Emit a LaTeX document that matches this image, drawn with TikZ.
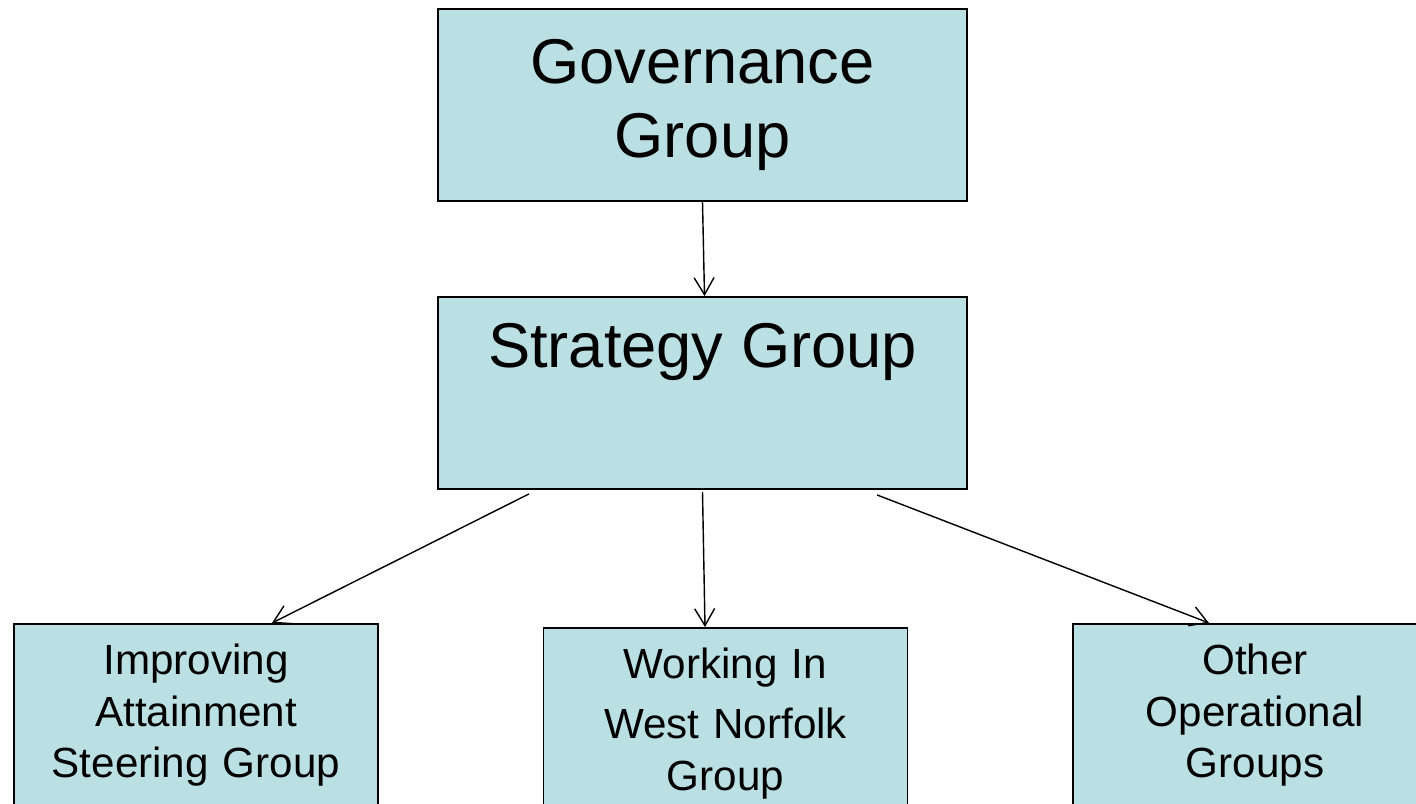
\documentclass[tikz,border=0pt]{standalone}
\usepackage{fontspec}
\setmainfont{Liberation Sans}
\usetikzlibrary{arrows.meta,positioning}
\definecolor{boxfill}{HTML}{BBE0E3}

\begin{document}
\begin{tikzpicture}[
  >={Straight Barb[length=3.4mm,width=4mm]},
  group/.style={draw=black,line width=1.1pt,fill=boxfill,inner sep=0pt,align=center,minimum width=10.58cm,font=\fontsize{36}{42.5}\selectfont},
  team/.style={draw=black,line width=1.1pt,fill=boxfill,inner xsep=0pt,inner ysep=0.4cm,align=center,text width=7.28cm,text depth=3cm,anchor=north,font=\fontsize{24}{29.3}\selectfont},
  link/.style={->,line width=0.8pt}
]
\useasboundingbox (0,0) rectangle (28.32,16.08);
\clip (0,0) rectangle (28.32,16.08);

% Upper tiers.
\node[group,minimum height=3.84cm] (gov) at (14.05,13.98) {Governance\\Group};
\node[group,anchor=north,text height=1.42cm,text depth=2.42cm] (strat) at (14.05,10.16) {Strategy Group};

% Operational groups, running off the lower edge.
\node[team] (attain) at (3.92,3.62) {Improving\\Attainment\\Steering Group};
\node[team] (norfolk) at (14.51,3.54) {Working In\\[5pt]West Norfolk\\Group};
\node[team] (other) at (25.10,3.62) {Other\\Operational\\Groups};

\draw[link] (gov.south) -- ([xshift=0.04cm]strat.north);
\draw[link] ([xshift=-3.47cm,yshift=-0.08cm]strat.south) -- ([xshift=1.52cm]attain.north);
\draw[link] ([yshift=-0.04cm]strat.south) -- ([xshift=-0.41cm]norfolk.north);
\draw[link] ([xshift=3.49cm,yshift=-0.1cm]strat.south) -- ([xshift=-0.92cm]other.north);
\end{tikzpicture}
\end{document}
